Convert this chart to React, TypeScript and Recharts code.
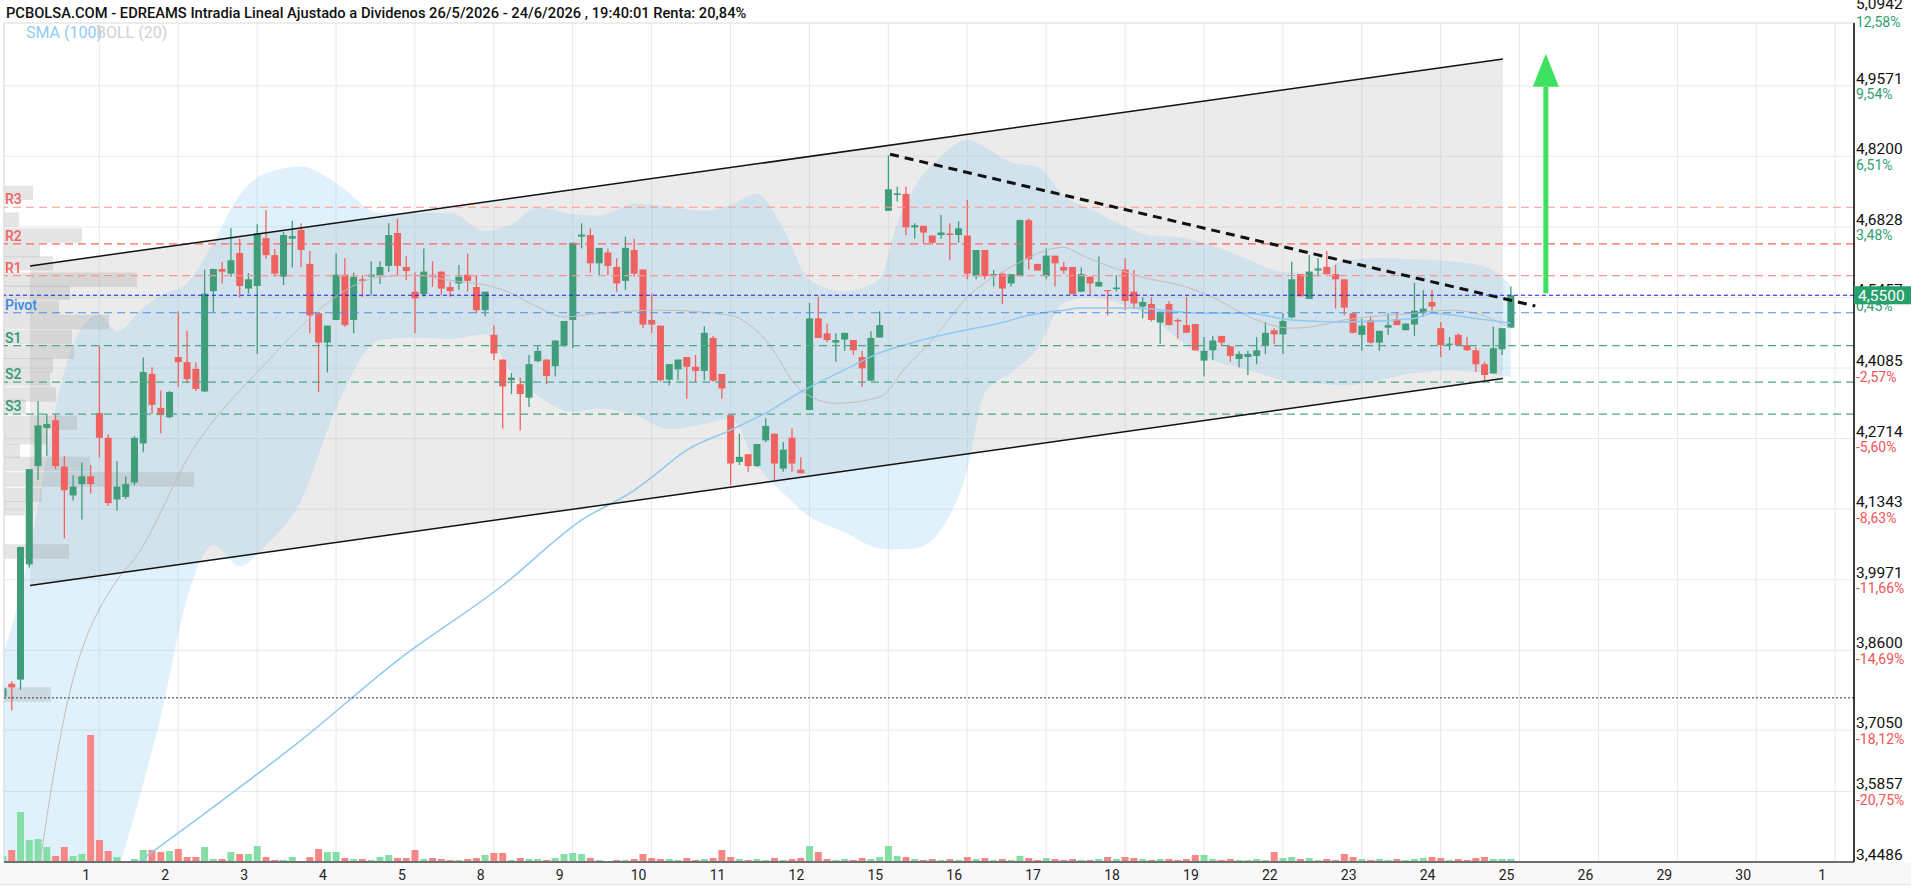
import {
  Area,
  Bar,
  CartesianGrid,
  Cell,
  ComposedChart,
  Line,
  ReferenceArea,
  ReferenceDot,
  ReferenceLine,
  XAxis,
  YAxis,
} from "recharts"

// hourly candles, 9 per session, index 0 = first visible candle
const opens = [
  3.770, 3.795, 3.803, 4.027, 4.218, 4.292, 4.307, 4.217, 4.161, 4.183,
  4.198, 4.321, 4.273, 4.153, 4.158, 4.186, 4.262, 4.397, 4.331, 4.313,
  4.430, 4.420, 4.407, 4.363, 4.558, 4.601, 4.592, 4.632, 4.563, 4.568,
  4.661, 4.628, 4.586, 4.660, 4.677, 4.611, 4.515, 4.458, 4.502, 4.590,
  4.502, 4.581, 4.586, 4.587, 4.607, 4.671, 4.605, 4.557, 4.552, 4.590,
  4.596, 4.566, 4.573, 4.590, 4.566, 4.521, 4.473, 4.425, 4.385, 4.377,
  4.351, 4.422, 4.425, 4.412, 4.453, 4.502, 4.664, 4.667, 4.612, 4.633,
  4.605, 4.578, 4.638, 4.600, 4.502, 4.491, 4.386, 4.406, 4.430, 4.411,
  4.403, 4.467, 4.397, 4.317, 4.226, 4.241, 4.218, 4.268, 4.281, 4.213,
  4.273, 4.211, 4.327, 4.505, 4.476, 4.458, 4.464, 4.463, 4.430, 4.384,
  4.468, 4.714, 4.745, 4.747, 4.682, 4.685, 4.666, 4.667, 4.670, 4.667,
  4.666, 4.587, 4.638, 4.587, 4.592, 4.573, 4.587, 4.696, 4.611, 4.587,
  4.627, 4.605, 4.605, 4.557, 4.586, 4.567, 4.560, 4.562, 4.600, 4.557,
  4.528, 4.533, 4.497, 4.533, 4.502, 4.492, 4.494, 4.423, 4.443, 4.471,
  4.451, 4.426, 4.430, 4.432, 4.453, 4.482, 4.474, 4.507, 4.591, 4.543,
  4.598, 4.605, 4.591, 4.581, 4.515, 4.473, 4.502, 4.458, 4.487, 4.503,
  4.482, 4.493, 4.516, 4.537, 4.486, 4.454, 4.473, 4.453, 4.443, 4.416,
  4.398, 4.445, 4.487,
]
const highs = [
  3.790, 3.800, 4.061, 4.212, 4.344, 4.319, 4.319, 4.238, 4.200, 4.225,
  4.220, 4.451, 4.280, 4.228, 4.198, 4.276, 4.429, 4.410, 4.365, 4.364,
  4.519, 4.481, 4.420, 4.600, 4.602, 4.615, 4.680, 4.660, 4.593, 4.688,
  4.715, 4.640, 4.673, 4.695, 4.690, 4.636, 4.515, 4.491, 4.631, 4.622,
  4.594, 4.589, 4.616, 4.616, 4.690, 4.699, 4.626, 4.594, 4.641, 4.616,
  4.596, 4.576, 4.609, 4.631, 4.589, 4.557, 4.491, 4.425, 4.399, 4.390,
  4.434, 4.451, 4.425, 4.462, 4.500, 4.652, 4.690, 4.680, 4.642, 4.641,
  4.622, 4.664, 4.660, 4.600, 4.554, 4.491, 4.416, 4.425, 4.430, 4.434,
  4.490, 4.471, 4.397, 4.317, 4.281, 4.241, 4.261, 4.311, 4.281, 4.265,
  4.291, 4.235, 4.535, 4.547, 4.495, 4.476, 4.477, 4.463, 4.442, 4.480,
  4.519, 4.822, 4.761, 4.761, 4.690, 4.685, 4.666, 4.706, 4.690, 4.694,
  4.735, 4.638, 4.638, 4.599, 4.594, 4.591, 4.697, 4.699, 4.611, 4.641,
  4.627, 4.615, 4.605, 4.604, 4.587, 4.626, 4.560, 4.589, 4.622, 4.599,
  4.546, 4.546, 4.518, 4.539, 4.505, 4.547, 4.494, 4.469, 4.471, 4.471,
  4.451, 4.441, 4.442, 4.469, 4.498, 4.486, 4.515, 4.615, 4.591, 4.628,
  4.622, 4.636, 4.609, 4.581, 4.515, 4.504, 4.510, 4.481, 4.515, 4.518,
  4.495, 4.574, 4.560, 4.560, 4.498, 4.469, 4.476, 4.469, 4.449, 4.421,
  4.489, 4.486, 4.567,
]
const lows = [
  3.765, 3.743, 3.783, 4.021, 4.191, 4.238, 4.212, 4.078, 4.151, 4.114,
  4.165, 4.235, 4.141, 4.131, 4.154, 4.181, 4.245, 4.319, 4.282, 4.311,
  4.372, 4.379, 4.364, 4.362, 4.516, 4.573, 4.586, 4.546, 4.553, 4.436,
  4.621, 4.586, 4.570, 4.604, 4.605, 4.476, 4.362, 4.400, 4.502, 4.489,
  4.476, 4.547, 4.550, 4.572, 4.595, 4.589, 4.579, 4.476, 4.547, 4.566,
  4.550, 4.547, 4.560, 4.557, 4.515, 4.509, 4.424, 4.291, 4.358, 4.287,
  4.333, 4.420, 4.377, 4.392, 4.450, 4.447, 4.641, 4.594, 4.589, 4.589,
  4.557, 4.560, 4.586, 4.486, 4.476, 4.382, 4.375, 4.385, 4.349, 4.381,
  4.385, 4.382, 4.349, 4.181, 4.220, 4.207, 4.216, 4.265, 4.191, 4.207,
  4.207, 4.204, 4.327, 4.467, 4.459, 4.421, 4.442, 4.434, 4.372, 4.384,
  4.468, 4.714, 4.732, 4.667, 4.660, 4.651, 4.648, 4.660, 4.618, 4.652,
  4.581, 4.581, 4.581, 4.567, 4.533, 4.567, 4.587, 4.600, 4.598, 4.581,
  4.567, 4.592, 4.552, 4.557, 4.552, 4.567, 4.511, 4.557, 4.521, 4.524,
  4.505, 4.499, 4.456, 4.491, 4.466, 4.477, 4.442, 4.392, 4.424, 4.451,
  4.421, 4.410, 4.395, 4.416, 4.436, 4.456, 4.436, 4.505, 4.548, 4.543,
  4.586, 4.591, 4.524, 4.511, 4.476, 4.442, 4.456, 4.442, 4.473, 4.492,
  4.482, 4.471, 4.508, 4.520, 4.430, 4.443, 4.451, 4.442, 4.401, 4.385,
  4.398, 4.434, 4.487,
]
const closes = [
  3.786, 3.788, 4.061, 4.212, 4.297, 4.300, 4.218, 4.171, 4.178, 4.198,
  4.183, 4.273, 4.146, 4.178, 4.183, 4.273, 4.401, 4.337, 4.317, 4.362,
  4.420, 4.387, 4.368, 4.553, 4.601, 4.596, 4.618, 4.568, 4.581, 4.670,
  4.628, 4.592, 4.667, 4.665, 4.638, 4.511, 4.458, 4.491, 4.590, 4.492,
  4.586, 4.578, 4.590, 4.605, 4.667, 4.607, 4.597, 4.544, 4.596, 4.586,
  4.563, 4.558, 4.586, 4.578, 4.521, 4.557, 4.437, 4.373, 4.390, 4.358,
  4.416, 4.442, 4.393, 4.462, 4.500, 4.652, 4.668, 4.612, 4.642, 4.607,
  4.573, 4.642, 4.592, 4.493, 4.493, 4.385, 4.416, 4.425, 4.411, 4.403,
  4.477, 4.384, 4.369, 4.223, 4.236, 4.218, 4.261, 4.296, 4.223, 4.250,
  4.223, 4.204, 4.505, 4.467, 4.463, 4.463, 4.477, 4.443, 4.408, 4.467,
  4.492, 4.756, 4.748, 4.682, 4.686, 4.672, 4.652, 4.672, 4.667, 4.680,
  4.592, 4.638, 4.587, 4.591, 4.563, 4.591, 4.696, 4.620, 4.598, 4.627,
  4.612, 4.598, 4.552, 4.591, 4.573, 4.576, 4.558, 4.565, 4.539, 4.534,
  4.537, 4.502, 4.518, 4.492, 4.499, 4.477, 4.443, 4.442, 4.462, 4.458,
  4.432, 4.436, 4.436, 4.443, 4.477, 4.474, 4.500, 4.581, 4.548, 4.596,
  4.602, 4.591, 4.581, 4.526, 4.477, 4.491, 4.458, 4.481, 4.492, 4.492,
  4.495, 4.520, 4.524, 4.528, 4.453, 4.456, 4.453, 4.443, 4.416, 4.395,
  4.447, 4.486, 4.550,
]
const volumes = [
  6, 12, 50, 22, 23, 15, 6, 15, 6, 8,
  127, 22, 11, 5, 1, 3, 12, 12, 10, 11,
  13, 5, 5, 15, 3, 3, 10, 8, 8, 16,
  5, 2, 2, 5, 1, 5, 13, 10, 10, 4,
  3, 3, 2, 5, 7, 4, 4, 12, 3, 4,
  3, 2, 2, 3, 4, 7, 9, 9, 2, 4,
  3, 3, 2, 4, 8, 9, 8, 4, 2, 1,
  2, 2, 3, 8, 4, 3, 3, 2, 4, 2,
  3, 4, 12, 5, 3, 2, 3, 2, 4, 2,
  3, 4, 16, 10, 3, 2, 3, 2, 4, 3,
  5, 16, 6, 5, 3, 2, 3, 2, 3, 2,
  5, 3, 4, 2, 3, 2, 6, 4, 2, 4,
  3, 2, 3, 2, 2, 3, 5, 3, 5, 4,
  3, 2, 3, 3, 2, 3, 7, 7, 3, 2,
  3, 2, 2, 3, 2, 10, 4, 5, 3, 4,
  2, 3, 2, 8, 5, 3, 2, 3, 2, 3,
  2, 3, 4, 5, 4, 2, 3, 2, 4, 5,
  3, 3, 3,
]

// session labels, one per 9-candle session starting at candle 11
const dayLabels = ["1", "2", "3", "4", "5", "8", "9", "10", "11", "12", "15", "16", "17", "18", "19", "22", "23", "24", "25", "26", "29", "30", "1"]
const dayTicks = dayLabels.map((_, k) => 11 + 9 * k)

const priceTicks = [3.4486, 3.5857, 3.705, 3.86, 3.9971, 4.1343, 4.2714, 4.4085, 4.5457, 4.6828, 4.82, 4.9571]
const pctLabels = ["", "-20,75%", "-18,12%", "-14,69%", "-11,66%", "-8,63%", "-5,60%", "-2,57%", "0,45%", "3,48%", "6,51%", "9,54%"]

// BOLL (20)
const bandIdx = [0, 2, 4, 6, 8, 11, 13, 16, 18, 21, 24, 27, 30, 34, 38, 43, 47, 51, 55, 58, 61, 65, 68, 72, 76, 80, 83, 86, 89, 92, 96, 100, 102, 104, 107, 110, 112, 115, 118, 121, 124, 128, 131, 134, 138, 142, 146, 150, 153, 157, 161, 165, 169, 172]
const bandUpper = [3.850, 3.971, 4.140, 4.330, 4.453, 4.513, 4.480, 4.525, 4.550, 4.573, 4.653, 4.745, 4.787, 4.800, 4.768, 4.710, 4.710, 4.710, 4.675, 4.688, 4.720, 4.708, 4.705, 4.728, 4.722, 4.714, 4.726, 4.747, 4.680, 4.580, 4.557, 4.581, 4.690, 4.760, 4.820, 4.852, 4.838, 4.808, 4.800, 4.744, 4.718, 4.684, 4.666, 4.663, 4.646, 4.620, 4.595, 4.593, 4.619, 4.622, 4.620, 4.616, 4.606, 4.570]
const bandLower = [3.20, 3.22, 3.25, 3.28, 3.31, 3.36, 3.43, 3.60, 3.73, 3.96, 4.064, 4.024, 4.064, 4.15, 4.33, 4.463, 4.468, 4.465, 4.474, 4.40, 4.355, 4.323, 4.33, 4.318, 4.29, 4.30, 4.31, 4.22, 4.165, 4.12, 4.09, 4.058, 4.056, 4.058, 4.095, 4.21, 4.36, 4.40, 4.445, 4.535, 4.546, 4.53, 4.508, 4.466, 4.424, 4.405, 4.385, 4.378, 4.375, 4.385, 4.399, 4.404, 4.399, 4.391]
const midIdx = [3, 7, 13, 15, 22, 26, 29, 33, 36, 43, 47, 51, 56, 58, 61, 64, 68, 75, 83, 87, 91, 95, 100, 103, 106, 110, 115, 121, 123, 130, 135, 138, 143, 147, 149, 153, 161, 165, 168, 172]
const midVals = [3.30, 3.730, 3.996, 4.037, 4.259, 4.346, 4.400, 4.472, 4.521, 4.585, 4.589, 4.579, 4.566, 4.554, 4.527, 4.508, 4.515, 4.521, 4.511, 4.463, 4.366, 4.340, 4.352, 4.410, 4.463, 4.546, 4.605, 4.643, 4.628, 4.585, 4.566, 4.546, 4.502, 4.486, 4.488, 4.502, 4.515, 4.521, 4.515, 4.486]
// SMA (100)
const smaIdx = [14, 22, 34, 45, 57, 66, 72, 74, 78, 83, 87, 91, 96, 100, 104, 108, 114, 117, 121, 123, 129, 137, 142, 147, 153, 161, 163, 168, 172]
const smaVals = [3.43, 3.530, 3.685, 3.840, 3.986, 4.113, 4.171, 4.196, 4.249, 4.288, 4.321, 4.362, 4.405, 4.438, 4.459, 4.476, 4.497, 4.511, 4.521, 4.525, 4.525, 4.515, 4.515, 4.502, 4.498, 4.505, 4.515, 4.505, 4.496]

// pivot levels and last price
const levelNames = ["R3", "R2", "R1", "Pivot", "S1", "S2", "S3"]
const levelValues = [4.721, 4.650, 4.588, 4.516, 4.452, 4.381, 4.319]
const lastPrice = 4.55
const markLevel = 3.7676

// volume by price (left profile)
const profilePrice = [4.749, 4.697, 4.666, 4.638, 4.612, 4.580, 4.555, 4.526, 4.498, 4.469, 4.440, 4.414, 4.387, 4.357, 4.333, 4.302, 4.274, 4.247, 4.222, 4.192, 4.162, 4.136, 4.052, 3.774]
const profileVol = [29, 15, 78, 36, 49, 133, 66, 55, 105, 68, 70, 49, 46, 52, 22, 73, 43, 16, 86, 190, 38, 21, 65, 47]

// drawn channel, trend line and target arrow
const channelTop = [{ i: 3.1, v: 4.607 }, { i: 171.1, v: 5.009 }]
const channelBottom = [{ i: 3.1, v: 3.986 }, { i: 171.1, v: 4.388 }]
const trendLine = [{ i: 101.2, v: 4.824 }, { i: 174.8, v: 4.529 }]
const arrowAt = 176
const arrowFrom = 4.554
const arrowTo = 4.955

const X_MIN = 0.13
const X_MAX = 211.15
const Y_MIN = 3.4486
const Y_MAX = 5.0791

const GREEN = "#3f9d7a"
const RED = "#f0625f"
const FONT = "Roboto, 'Noto Sans', Arial, sans-serif"

const candles = opens.map((o, i) => ({
  i,
  o,
  h: highs[i],
  l: lows[i],
  c: closes[i],
  vol: volumes[i],
}))
const bandData = bandIdx.map((i, k) => ({ i, lo: bandLower[k], hi: bandUpper[k] }))
const midData = midIdx.map((i, k) => ({ i, v: midVals[k] }))
const smaData = smaIdx.map((i, k) => ({ i, v: smaVals[k] }))
const channelData = channelTop.map((p, k) => ({ i: p.i, lo: channelBottom[k].v, hi: p.v }))
// last price goes last so its box is painted over the other labels
const axisTicks = [...priceTicks, lastPrice]

const fmt = (v: number) => v.toFixed(4).replace(".", ",")

function Candle(props: any) {
  const { x, y, width, height, payload } = props
  if (!payload || height == null) return null
  let top = y
  let hgt = height
  if (hgt < 0) {
    top = y + hgt
    hgt = -hgt
  }
  const { o, h, l, c } = payload
  const k = h > l ? hgt / (h - l) : 0
  const yO = top + (h - o) * k
  const yC = top + (h - c) * k
  const col = c >= o ? GREEN : RED
  const cx = x + width / 2
  return (
    <g>
      <line x1={cx} x2={cx} y1={top} y2={top + hgt} stroke={col} strokeWidth={1.3} />
      <rect x={x} y={Math.min(yO, yC)} width={width} height={Math.max(1.2, Math.abs(yO - yC))} fill={col} />
    </g>
  )
}

function PriceTick(props: any) {
  const { x, y, payload } = props
  if (payload.value === lastPrice) {
    return (
      <g fontFamily={FONT}>
        <rect x={x - 2} y={y - 9} width={57} height={18} fill="#27a06c" />
        <text x={x + 2} y={y + 5.5} fontSize={15.5} fill="#fff">
          {fmt(lastPrice)}
        </text>
      </g>
    )
  }
  const k = priceTicks.indexOf(payload.value)
  const pct = pctLabels[k] ?? ""
  return (
    <g fontFamily={FONT}>
      <text x={x} y={y - 2} fontSize={15.5} fill="#111">
        {fmt(payload.value)}
      </text>
      {pct && (
        <text x={x} y={y + 13.5} fontSize={14} fill={pct.startsWith("-") ? "#f25454" : "#2f9e6f"}>
          {pct}
        </text>
      )}
    </g>
  )
}

function DayTick(props: any) {
  const { x, y, payload } = props
  const label = dayLabels[(payload.value - 11) / 9]
  return (
    <text x={x - 13} y={y + 16} textAnchor="middle" fontSize={14} fill="#222" fontFamily="'Liberation Sans Narrow', Roboto, sans-serif">
      {label}
    </text>
  )
}

function LevelTag(props: any) {
  const { viewBox, text, color } = props
  if (!viewBox) return null
  return (
    <text x={viewBox.x + 1} y={viewBox.y - 3} fontSize={14} fontWeight={500} fill={color} fontFamily={FONT}>
      {text}
    </text>
  )
}

function levelColor(name: string) {
  if (name === "Pivot") return { line: "#4d8fe6", text: "#3a86e8" }
  if (name.startsWith("R")) return { line: name === "R2" ? "#ff6262" : "#ff9393", text: "#f26161" }
  return { line: "#4fa585", text: "#2f9a70" }
}

export default function App() {
  return (
    <div style={{ position: "relative", width: 1920, height: 889, background: "#fff" }}>
      <style>{"body{margin:0}"}</style>
      <div
        style={{
          position: "absolute",
          left: 0,
          top: 863,
          width: 1911,
          height: 21,
          background: "#f8f8f8",
          borderBottom: "1px solid #e3e3e3",
        }}
      />
      <div style={{ position: "absolute", left: 0, top: 0 }}>
        <ComposedChart width={1920} height={889} data={candles} margin={{ top: 23, right: 0, bottom: 0, left: 4 }}>
          <XAxis
            xAxisId="c"
            dataKey="i"
            type="number"
            domain={[X_MIN, X_MAX]}
            allowDataOverflow
            ticks={dayTicks}
            interval={0}
            height={27}
            tickLine={false}
            tickSize={0}
            axisLine={{ stroke: "#6f6f6f", strokeWidth: 2 }}
            tick={<DayTick />}
          />
          <XAxis xAxisId="v" dataKey="i" type="number" domain={[X_MIN, X_MAX]} allowDataOverflow hide />
          <XAxis xAxisId="l" dataKey="i" type="number" domain={[X_MIN, X_MAX]} allowDataOverflow hide />
          <YAxis
            yAxisId="p"
            orientation="right"
            width={66}
            domain={[Y_MIN, Y_MAX]}
            allowDataOverflow
            ticks={axisTicks}
            interval={0}
            tickLine={false}
            tickSize={0}
            tickMargin={2}
            axisLine={{ stroke: "#000", strokeWidth: 1.5 }}
            tick={<PriceTick />}
          />
          <YAxis yAxisId="vol" domain={[0, 839]} hide />

          <CartesianGrid xAxisId="c" yAxisId="p" stroke="#e8e8e8" />
          <ReferenceLine xAxisId="c" yAxisId="p" y={Y_MAX} stroke="#e6e6e6" />
          <ReferenceLine xAxisId="c" yAxisId="p" x={X_MIN} stroke="#dddddd" />

          <Area
            xAxisId="l"
            yAxisId="p"
            data={channelData}
            dataKey={(d: any) => [d.lo, d.hi]}
            type="linear"
            stroke="none"
            fill="#bebebe"
            fillOpacity={0.3}
            isAnimationActive={false}
            activeDot={false}
          />
          <Area
            xAxisId="l"
            yAxisId="p"
            data={bandData}
            dataKey={(d: any) => [d.lo, d.hi]}
            type="monotone"
            stroke="none"
            fill="#87c8f0"
            fillOpacity={0.25}
            isAnimationActive={false}
            activeDot={false}
          />

          {profilePrice.map((p, k) => (
            <ReferenceArea
              key={"pr" + k}
              xAxisId="c"
              yAxisId="p"
              x1={X_MIN}
              x2={X_MIN + profileVol[k] / 8.767}
              y1={p - 0.014}
              y2={p + 0.014}
              fill="#969696"
              fillOpacity={0.25}
              stroke="none"
            />
          ))}

          <Line
            xAxisId="l"
            yAxisId="p"
            data={midData}
            dataKey="v"
            type="monotone"
            stroke="#c2bdb9"
            strokeWidth={1}
            dot={false}
            activeDot={false}
            isAnimationActive={false}
          />
          <Line
            xAxisId="l"
            yAxisId="p"
            data={smaData}
            dataKey="v"
            type="monotone"
            stroke="#8ec9f0"
            strokeWidth={1.5}
            dot={false}
            activeDot={false}
            isAnimationActive={false}
          />

          {levelNames.map((name, k) => {
            const col = levelColor(name)
            return (
              <ReferenceLine
                key={name}
                xAxisId="c"
                yAxisId="p"
                y={levelValues[k]}
                stroke={col.line}
                strokeWidth={1.2}
                strokeDasharray="8 5"
                label={<LevelTag text={name} color={col.text} />}
              />
            )
          })}
          <ReferenceLine xAxisId="c" yAxisId="p" y={markLevel} stroke="#333" strokeDasharray="2 2" />

          <Bar
            xAxisId="v"
            yAxisId="vol"
            dataKey="vol"
            barSize={7}
            isAnimationActive={false}
          >
            {candles.map((d) => (
              <Cell key={d.i} fill={d.c >= d.o ? "#85dea6" : "#f98686"} />
            ))}
          </Bar>
          <Bar
            xAxisId="c"
            yAxisId="p"
            dataKey={(d: any) => [d.l, d.h]}
            barSize={7}
            shape={<Candle />}
            isAnimationActive={false}
          />

          <ReferenceLine
            xAxisId="c"
            yAxisId="p"
            segment={[{ x: channelTop[0].i, y: channelTop[0].v }, { x: channelTop[1].i, y: channelTop[1].v }]}
            stroke="#111"
            strokeWidth={1.5}
          />
          <ReferenceLine
            xAxisId="c"
            yAxisId="p"
            segment={[{ x: channelBottom[0].i, y: channelBottom[0].v }, { x: channelBottom[1].i, y: channelBottom[1].v }]}
            stroke="#111"
            strokeWidth={1.5}
          />
          <ReferenceLine
            xAxisId="c"
            yAxisId="p"
            segment={[{ x: trendLine[0].i, y: trendLine[0].v }, { x: trendLine[1].i, y: trendLine[1].v }]}
            stroke="#111"
            strokeWidth={3}
            strokeDasharray="9 6"
          />
          <ReferenceLine
            xAxisId="c"
            yAxisId="p"
            segment={[{ x: arrowAt, y: arrowFrom }, { x: arrowAt, y: arrowTo }]}
            stroke="#3ee05f"
            strokeWidth={5}
          />
          <ReferenceDot
            xAxisId="c"
            yAxisId="p"
            x={arrowAt}
            y={arrowTo}
            r={0}
            shape={(p: any) => (
              <polygon
                points={`${p.cx - 13},${p.cy} ${p.cx + 13},${p.cy} ${p.cx},${p.cy - 33}`}
                fill="#3ee05f"
              />
            )}
          />
          <ReferenceLine
            xAxisId="c"
            yAxisId="p"
            y={lastPrice}
            stroke="#2020e0"
            strokeWidth={1.2}
            strokeDasharray="4 3"
          />
        </ComposedChart>
      </div>
      <svg
        width={1920}
        height={889}
        style={{ position: "absolute", left: 0, top: 0, pointerEvents: "none" }}
        fontFamily={FONT}
      >
        <text x={6} y={18} fontSize={14.7} fontWeight={500} fill="#111">
          PCBOLSA.COM - EDREAMS Intradia Lineal Ajustado a Dividenos 26/5/2026 - 24/6/2026 , 19:40:01 Renta: 20,84%
        </text>
        <text x={26} y={38} fontSize={16} fill="#90cbf3">
          SMA (100)
        </text>
        <text x={96} y={38} fontSize={16} fill="#cfcfcf">
          BOLL (20)
        </text>
        <text x={1856} y={9} fontSize={15.5} fill="#111">
          5,0942
        </text>
        <text x={1856} y={27} fontSize={14} fill="#2f9e6f">
          12,58%
        </text>
      </svg>
    </div>
  )
}
